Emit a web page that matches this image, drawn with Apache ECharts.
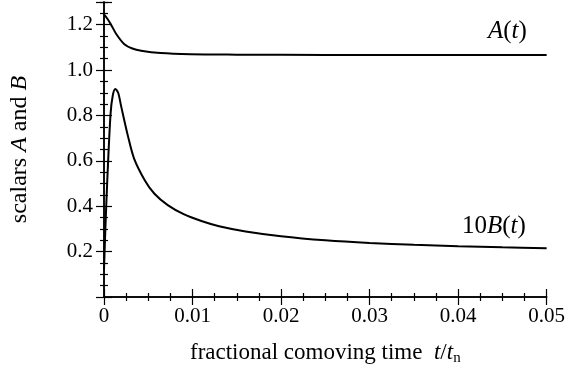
<!DOCTYPE html>
<html>
<head>
<meta charset="utf-8">
<script src="https://cdn.jsdelivr.net/npm/echarts@6/dist/echarts.min.js"></script>
<style>
  html, body { margin: 0; padding: 0; background: #fff; }
  #chart { width: 568px; height: 380px; }
</style>
</head>
<body>
<div id="chart"></div>
<script>
// values
const tA = [0, 0.0004, 0.0008, 0.0014, 0.0023, 0.0032, 0.0042, 0.0064, 0.0098, 0.015, 0.02, 0.03, 0.04, 0.05];
const scalarA = [1.245, 1.225, 1.2, 1.158, 1.114, 1.095, 1.085, 1.075, 1.07, 1.068, 1.067, 1.066, 1.066, 1.066];

const tB = [0, 0.00015, 0.00037, 0.00074, 0.001, 0.00128, 0.0016, 0.00194, 0.0027, 0.0034, 0.0046, 0.0057,
  0.0072, 0.009, 0.011, 0.013, 0.016, 0.02, 0.025, 0.03, 0.035, 0.04, 0.045, 0.05];
const scalarB10 = [0.12, 0.295, 0.514, 0.807, 0.89, 0.917, 0.9, 0.84, 0.71, 0.61, 0.515, 0.455,
  0.405, 0.365, 0.335, 0.312, 0.289, 0.268, 0.25, 0.238, 0.23, 0.224, 0.219, 0.215];

const serif = "'Liberation Serif', 'DejaVu Serif', serif";

function pairs(xs, ys) {
  return xs.map((x, i) => [x, ys[i]]);
}

let axisLine = { lineStyle: { color: "#000", width: 1.5 } };
let tick = { inside: true, length: 8, lineStyle: { color: "#000", width: 1.2 } };
let minor = { show: true, splitNumber: 4, length: 4, lineStyle: { color: "#000", width: 1.2 } };

let myChart = echarts.init(document.getElementById("chart"));
myChart.setOption({
  animation: false,
  grid: { left: 103, right: 21, top: 2, bottom: 83 },
  xAxis: [
    {
      type: "value",
      min: 0,
      max: 0.05,
      interval: 0.01,
      axisLine: axisLine,
      axisTick: tick,
      minorTick: minor,
      splitLine: { show: false },
      axisLabel: {
        color: "#000",
        fontFamily: serif,
        fontSize: 21,
        margin: 9,
        formatter: (v) => (v === 0 ? "0" : v.toFixed(2)),
      },
      name: "{n|fractional comoving time  }{i|t}{n|/}{i|t}{s|n}",
      nameLocation: "middle",
      nameGap: 42,
      nameTextStyle: {
        rich: {
          n: { fontFamily: serif, fontSize: 23, color: "#000" },
          i: { fontFamily: serif, fontSize: 23, fontStyle: "italic", color: "#000" },
          s: { fontFamily: serif, fontSize: 15, color: "#000", padding: [12, 0, 0, 0] },
        },
      },
    },
    {
      type: "value",
      position: "top",
      min: 0,
      max: 0.05,
      interval: 0.01,
      axisLine: axisLine,
      axisTick: tick,
      minorTick: minor,
      splitLine: { show: false },
      axisLabel: { show: false },
    },
  ],
  yAxis: [
    {
      type: "value",
      min: 0,
      max: 1.3,
      interval: 0.2,
      axisLine: axisLine,
      axisTick: tick,
      minorTick: minor,
      splitLine: { show: false },
      axisLabel: {
        color: "#000",
        fontFamily: serif,
        fontSize: 21,
        margin: 11,
        showMaxLabel: false,
        formatter: (v) => (v === 0 ? "" : v.toFixed(1)),
      },
      name: "{n|scalars }{i|A}{n| and }{i|B}",
      nameLocation: "middle",
      nameGap: 72,
      nameTextStyle: {
        padding: [0, 0, 0, 0],
        rich: {
          n: { fontFamily: serif, fontSize: 24, color: "#000" },
          i: { fontFamily: serif, fontSize: 24, fontStyle: "italic", color: "#000" },
        },
      },
    },
    {
      type: "value",
      position: "right",
      min: 0,
      max: 1.3,
      interval: 0.2,
      axisLine: axisLine,
      axisTick: tick,
      minorTick: minor,
      splitLine: { show: false },
      axisLabel: { show: false },
    },
  ],
  series: [
    {
      type: "line",
      data: pairs(tA, scalarA),
      showSymbol: false,
      smooth: 0.3,
      lineStyle: { color: "#000", width: 2 },
    },
    {
      type: "line",
      data: pairs(tB, scalarB10),
      showSymbol: false,
      smooth: 0.3,
      lineStyle: { color: "#000", width: 2 },
    },
  ],
  graphic: [
    {
      type: "text",
      left: 488,
      top: 19,
      style: {
        text: "{i|A}{n|(}{i|t}{n|)}",
        rich: {
          n: { fontFamily: serif, fontSize: 25, fill: "#000" },
          i: { fontFamily: serif, fontSize: 25, fontStyle: "italic", fill: "#000" },
        },
      },
    },
    {
      type: "text",
      left: 462,
      top: 214,
      style: {
        text: "{n|10}{i|B}{n|(}{i|t}{n|)}",
        rich: {
          n: { fontFamily: serif, fontSize: 25, fill: "#000" },
          i: { fontFamily: serif, fontSize: 25, fontStyle: "italic", fill: "#000" },
        },
      },
    },
  ],
});
</script>
</body>
</html>
